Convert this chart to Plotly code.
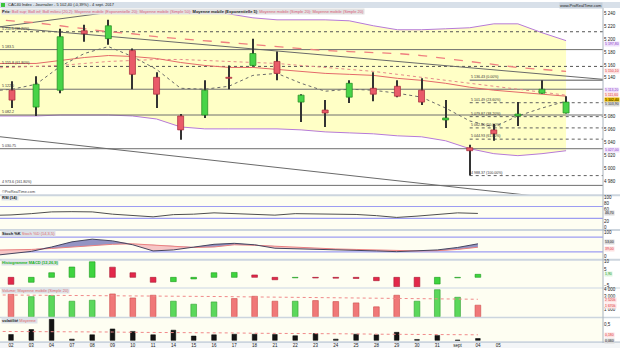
import plotly.graph_objects as go

# ---------------- data ----------------
dates = ["02", "03", "04", "07", "08", "09", "10", "11", "14", "15", "16", "17", "18",
         "21", "22", "23", "24", "25", "28", "29", "30", "31", "sept", "04", "05"]

open_p = [5120.9, 5094.7, 5120.9, 5213.2, 5200.9, 5182.4, 5140.9, 5080.9, 5082.4, 5140.9,
          5159.3, 5165.5, 5102.4, 5090.1, 5110.1, 5123.9, 5127.0, 5120.9, 5074.7, 5031.6,
          5059.3, 5080.9, 5116.2, 5085.5]
high_p = [5134.7, 5142.4, 5216.2, 5222.4, 5230.1, 5185.5, 5148.6, 5083.9, 5136.2, 5159.3,
          5200.9, 5180.9, 5114.7, 5105.5, 5136.2, 5148.6, 5136.2, 5139.3, 5105.5, 5036.2,
          5068.6, 5102.4, 5136.43, 5111.6]
low_p = [5093.2, 5080.9, 5116.2, 5196.2, 5191.6, 5122.4, 5093.2, 5043.9, 5077.8, 5122.4,
         5158.0, 5136.2, 5071.6, 5063.9, 5100.9, 5103.9, 5110.1, 5097.8, 5062.4, 4988.37,
         5042.4, 5065.5, 5115.5, 5084.8]
close_p = [5105.5, 5130.1, 5203.9, 5208.5, 5220.9, 5145.5, 5114.7, 5059.3, 5120.9, 5139.3,
           5177.8, 5147.0, 5113.2, 5085.5, 5131.6, 5114.7, 5111.6, 5102.4, 5077.8, 5027.0,
           5053.2, 5083.9, 5122.4, 5102.4]
prev_close = 5122.0  # 01 août

# line indicators: first value = 01 août (just off the left edge)
boll_sup = [5262.0, 5265.5, 5270.1, 5276.3, 5280.9, 5279.3, 5276.3, 5270.1, 5257.8, 5245.5,
            5239.3, 5233.2, 5230.1, 5230.1, 5230.1, 5228.6, 5220.9, 5214.7, 5214.7, 5216.2,
            5217.8, 5223.9, 5223.9, 5210.1, 5197.8]
boll_inf = [5080.9, 5080.9, 5080.9, 5082.4, 5082.4, 5082.4, 5080.9, 5076.2, 5063.9, 5060.9,
            5060.9, 5060.9, 5060.9, 5059.3, 5056.2, 5054.7, 5053.2, 5050.1, 5048.6, 5042.4,
            5030.1, 5022.4, 5019.3, 5022.4, 5027.0]
mm_ema20 = [5162.4, 5162.4, 5162.4, 5167.0, 5171.6, 5174.7, 5173.2, 5170.1, 5163.9, 5159.3,
            5156.2, 5156.2, 5153.2, 5150.1, 5147.0, 5145.5, 5143.9, 5139.3, 5136.2, 5131.6,
            5125.5, 5120.9, 5117.8, 5114.7, 5111.6]
mm_sma20 = [5155.0, 5156.2, 5157.8, 5159.3, 5162.4, 5165.5, 5167.0, 5168.6, 5168.6, 5167.0,
            5165.5, 5163.9, 5162.4, 5159.3, 5156.2, 5153.2, 5150.1, 5145.5, 5140.9, 5136.2,
            5131.6, 5127.0, 5122.4, 5117.8, 5113.2]
mm_sma50 = [5231.6, 5228.6, 5225.5, 5220.9, 5216.2, 5211.6, 5208.5, 5203.9, 5200.8, 5197.8,
            5194.7, 5191.6, 5188.5, 5185.5, 5182.4, 5180.9, 5179.3, 5177.8, 5174.7, 5170.1,
            5165.5, 5160.9, 5156.2, 5153.2, 5150.1]
mm_ema5 = [5119.3, 5122.4, 5130.1, 5157.8, 5177.8, 5188.6, 5173.2, 5153.2, 5123.9, 5122.4,
           5127.0, 5143.9, 5147.0, 5131.6, 5119.3, 5122.4, 5120.9, 5116.2, 5110.1, 5093.2,
           5073.2, 5063.9, 5080.9, 5093.2, 5103.9]

rsi14 = [40.0, 41.7, 46.0, 52.0, 52.7, 52.0, 44.3, 39.3, 35.3, 42.7, 44.3, 48.7, 46.0, 42.7,
         41.0, 46.0, 45.3, 44.3, 43.3, 39.3, 33.3, 37.7, 44.3, 48.7, 46.7]
stoch_k = [4, 12, 22, 40, 61, 72, 65, 49, 24, 28, 40, 51, 55, 49, 35, 33, 32, 31, 28, 24,
           21, 24, 28, 38, 53]
stoch_d = [27, 28, 30, 34, 40, 47, 51, 53, 49, 43, 38, 40, 49, 47, 43, 38, 34, 32, 30, 27,
           25, 24, 25, 30, 39]

macd_hist = [-4.4, -3.1, 2.9, 6.5, 9.8, 6.4, 2.9, -3.1, -2.7, -1.0, 2.9, 3.1, 1.5, -1.5,
             -0.3, -0.4, -0.5, -0.7, -2.1, -5.8, -5.9, -4.2, -0.3, 1.9]
macd_prev = -3.8  # 01 août

volume_k = [3240, 2900, 3050, 2240, 2380, 3290, 2710, 3100, 2240, 1810, 2140, 2620, 2950,
            2240, 2240, 2330, 2190, 2000, 1430, 3100, 2240, 3900, 2810, 1670]
volume_ma20 = [3150, 3140, 3130, 3110, 3090, 3060, 3040, 3020, 2990, 2970, 2940, 2920, 2890,
               2860, 2840, 2810, 2780, 2750, 2720, 2690, 2660, 2620, 2590, 2550, 2520]

volat = [0.19, 0.35, 0.68, 0.04, 0.18, 0.37, 0.29, 0.18, 0.33, 0.14, 0.18, 0.20, 0.20, 0.19,
         0.15, 0.22, 0.04, 0.20, 0.18, 0.26, 0.03, 0.16, 0.01, 0.06]
volat_ma = [0.29, 0.29, 0.29, 0.28, 0.28, 0.27, 0.27, 0.26, 0.26, 0.25, 0.25, 0.24, 0.24,
            0.23, 0.23, 0.22, 0.22, 0.21, 0.21, 0.20, 0.20, 0.19, 0.19, 0.18, 0.18]

# horizontal levels (left side)
hl_solid = [5183.9, 5122.4, 5082.4, 5030.1, 4973.2]
hl_solid_txt = ["5 183.5", "5 122.0", "5 082.2", "5 030.75", "4 973.6 (161.80%)"]
hl_dot = [5211.6, 5157.8]
hl_dot_txt = ["5 211.5 (38.20%)", "5 155.8 (61.80%)"]

# Fibonacci retracement (right side)
fib_high = 5136.43
fib_low = 4988.37
fib_pct = [0.0, 23.6, 38.2, 50.0, 61.8, 100.0]
fib_start = 19

# trend lines: (index pair, price pair)
trend_lines = [([2, 22], [5211.0, 5146.0]),
               ([0, 20], [5046.6, 4963.8]),
               ([0, 4], [5221.8, 5241.6])]

# axis tick values
price_ticks = [4980, 5000, 5020, 5040, 5060, 5080, 5140, 5160, 5180, 5200, 5220, 5240]
rsi_ticks = [0, 20, 60, 80, 100]
stoch_ticks = [0, 100]
macd_ticks = [-5, 5, 10]
vol_ticks = [1000, 3000, 4000]
volat_ticks = [0.5]

# ---------------- geometry ----------------
W, H = 620, 349
XEND = 603 / W
XR = [-0.498, 24.533]
XR2 = [-0.542, 29.163]
YR = [4959.3, 5247.0]


def dom(top, bot):
    return [1 - bot / H, 1 - top / H]


def py(p):
    return 1 - p / H


def fmt(v, d=2):
    return f"{v:,.{d}f}".replace(",", " ").replace(".", ",")


FONT = "Liberation Sans, Arial, sans-serif"
xl = list(range(-1, 24))
xi = list(range(24))

fig = go.Figure()


def sc(x, y, color, width=1, dash="solid", xa="x", ya="y", **kw):
    fig.add_trace(go.Scatter(x=x, y=y, mode="lines", xaxis=xa, yaxis=ya, hoverinfo="skip",
                             line=dict(color=color, width=width, dash=dash), **kw))


# --- main price panel (base subplot) ---
sc(xl, boll_inf, "#b67ad8", 1)
sc(xl, boll_sup, "#b67ad8", 1, fill="tonexty", fillcolor="#ffffc6")
for v in hl_solid:
    sc(XR, [v, v], "#6f6f6f", 1)
for v in hl_dot:
    sc(XR, [v, v], "#555555", 1, "dot")
fib_lv = [fib_high - p / 100 * (fib_high - fib_low) for p in fib_pct]
for p, v in zip(fib_pct, fib_lv):
    if p == 0:
        sc([fib_start, XR[1]], [v, v], "#8c8c8c", 1.6)
    else:
        sc([fib_start, XR[1]], [v, v], "#606060", 1, "dot")
for (tx, ty) in trend_lines:
    s = (ty[1] - ty[0]) / (tx[1] - tx[0])
    sc(XR, [ty[0] + s * (XR[0] - tx[0]), ty[0] + s * (XR[1] - tx[0])], "#6a6a6a", 1)
sc(xl, mm_sma50, "#ef7f7f", 1.3, "dash")
sc(xl, mm_sma20, "#e58a8a", 1, "dot")
sc(xl, mm_ema20, "#e46a6a", 1)
sc(xl, mm_ema5, "#6a6a6a", 1, "dot")

# --- candles (overlay subplot so they sit above the band) ---
fig.add_trace(go.Bar(x=xi, y=[h - l for h, l in zip(high_p, low_p)], base=low_p, width=0.042,
                     marker=dict(color="#333333", line=dict(width=0)),
                     xaxis="x", yaxis="y7", hoverinfo="skip"))
up = [c >= o for o, c in zip(open_p, close_p)]
fig.add_trace(go.Bar(x=xi, y=[max(abs(c - o), 1.3) for o, c in zip(open_p, close_p)],
                     base=[min(o, c) for o, c in zip(open_p, close_p)], width=0.25,
                     marker=dict(color=["#48d448" if u else "#e95b69" for u in up],
                                 line=dict(color=["#23881f" if u else "#a52a3a" for u in up], width=0.7)),
                     xaxis="x", yaxis="y7", hoverinfo="skip"))

# --- RSI ---
for v in (70, 30):
    sc(XR2, [v, v], "#9d9df2", 1.2, xa="x2", ya="y2")
sc(xl, rsi14, "#4e4e4e", 1, xa="x2", ya="y2")

# --- Stochastic ---
for v in (80, 20):
    sc(XR2, [v, v], "#9d9df2", 1.2, xa="x2", ya="y3")
smax = [max(k, d) for k, d in zip(stoch_k, stoch_d)]
sc(xl, stoch_d, "rgba(0,0,0,0)", 0.1, xa="x2", ya="y3")
sc(xl, smax, "rgba(0,0,0,0)", 0.1, xa="x2", ya="y3", fill="tonexty", fillcolor="#9494c4")
sc(xl, stoch_k, "rgba(0,0,0,0)", 0.1, xa="x2", ya="y3")
sc(xl, smax, "rgba(0,0,0,0)", 0.1, xa="x2", ya="y3", fill="tonexty", fillcolor="#f6c6c6")
sc(xl, stoch_d, "#ea8080", 1, xa="x2", ya="y3")
sc(xl, stoch_k, "#45455f", 1, xa="x2", ya="y3")

# --- MACD histogram ---
mprev = [macd_prev] + macd_hist[:-1]
mup = [v >= p for v, p in zip(macd_hist, mprev)]
fig.add_trace(go.Bar(x=xi, y=macd_hist, width=0.28, xaxis="x2", yaxis="y4", hoverinfo="skip",
                     marker=dict(color=["#3ed43e" if u else "#e3284a" for u in mup],
                                 line=dict(color=["#1f9a1f" if u else "#a81a32" for u in mup], width=0.6))))

# --- Volume ---
cprev = [prev_close] + close_p[:-1]
vup = [c >= p for c, p in zip(close_p, cprev)]
fig.add_trace(go.Bar(x=xi, y=volume_k, width=0.28, xaxis="x2", yaxis="y5", hoverinfo="skip",
                     marker=dict(color=["#5bd85b" if u else "#f07878" for u in vup],
                                 line=dict(color=["#2fa02f" if u else "#cc4a4a" for u in vup], width=0.6))))
sc(xl, volume_ma20, "#f08a8a", 1, "dot", xa="x2", ya="y5")

# --- Volatility ---
fig.add_trace(go.Bar(x=xi, y=volat, width=0.23, xaxis="x2", yaxis="y6", hoverinfo="skip",
                     marker=dict(color="#141414", line=dict(color="#000000", width=0.5))))
sc(xl, volat_ma, "#f08a8a", 1, "dot", xa="x2", ya="y6")

# ---------------- shapes ----------------
shapes = []


def rect(x0, y0, x1, y1, color, layer="below"):
    shapes.append(dict(type="rect", xref="paper", yref="paper", x0=x0, x1=x1, y0=py(y1), y1=py(y0),
                       fillcolor=color, line=dict(width=0), layer=layer))


for (t, b) in [(196, 229), (231, 259), (261, 288), (289, 317.5), (319, 342.3)]:
    rect(0, t, XEND, b, "#fefef2")
rect(0, 0, 1, 6, "#d8e0e9")
for (t, b) in [(194, 196), (229, 231), (259, 261), (288, 289), (317.5, 319), (342.3, 344)]:
    rect(0, t, 1, b, "#ccd5de")
rect(0, 344, 1, 349, "#f3f5f7")
rect(1 / W, 1, 5 / W, 5, "#3cc43c")
shapes.append(dict(type="line", xref="paper", yref="paper", x0=XEND, x1=XEND, y0=py(344), y1=py(6),
                   line=dict(color="#aab4be", width=1), layer="above"))

# ---------------- annotations ----------------
ann = []


def txt(x, y, s, size=4.2, color="#222222", xref="paper", yref="paper", xanchor="left",
        yanchor="middle", bg=None, **kw):
    d = dict(x=x, y=y, text=s, xref=xref, yref=yref, xanchor=xanchor, yanchor=yanchor,
             showarrow=False, font=dict(size=size, color=color, family=FONT), borderpad=0)
    if bg:
        d["bgcolor"] = bg
    d.update(kw)
    ann.append(d)


chg = (close_p[-1] / close_p[-2] - 1) * 100
txt(7 / W, py(3), f"CAC40 Index - Journalier - {fmt(close_p[-1])} ({fmt(chg)}%) - 4 sept. 2017",
    size=4)
txt(XEND, py(3.5), "www.ProRealTime.com", size=4, xanchor="right", bg="#c4ced9")
legend_txt = ("<b>Prix</b>: <span style='color:#d95a78'>Boll sup; Boll inf; Boll milieu (20,2); "
              "Moyenne mobile (Exponentielle 20); Moyenne mobile (Simple 50);</span> "
              "<b>Moyenne mobile (Exponentielle 5)</b>; <span style='color:#d95a78'>"
              "Moyenne mobile (Simple 20); Moyenne mobile (Simple 20)</span>")
txt(1 / W, py(9.2), legend_txt, size=4, bg="#e2e2e2")
for v, s in zip(hl_solid + hl_dot, hl_solid_txt + hl_dot_txt):
    txt(1 / W, v, s, size=3.6, color="#333333", yref="y", yanchor="bottom")
for p, v in zip(fib_pct, fib_lv):
    txt(fib_start, v, f"{fmt(v).replace(',', '.')} ({p:.2f}%)", size=3.6, color="#333333",
        xref="x", yref="y", yanchor="bottom")
txt(1 / W, py(191.5), "©ProRealTime.com", size=3.8, color="#444444")

# right-side value boxes (main)
BX = XEND + 1 / W
vb = [(boll_sup[-1], "#8a3cc8", "#efe0fb", -3.5), (mm_sma50[-1], "#e03c3c", "#fde2e2", 0),
      (mm_sma20[-1], "#8a3cc8", "#efe0fb", 4.8), (mm_ema20[-1], "#e03c3c", "#fde2e2", 1.1),
      (close_p[-1], "#000000", "#f2c200", 2.6), (mm_ema5[-1], "#333333", "#d9d9d9", -3.2),
      (boll_inf[-1], "#8a3cc8", "#efe0fb", 0.6)]
for v, fc, bg, ys in vb:
    txt(BX, v, fmt(v), size=3.5, color=fc, yref="y", bg=bg, yshift=ys)

# panel titles
txt(1 / W, py(197.5), "<b>RSI (14)</b>", size=4, bg="#dde2e8")
txt(1 / W, py(233.5), "<b>Stoch %K</b> <span style='color:#e06a6a'>Stoch %D (14,3,5)</span>",
    size=4, bg="#dde2e8")
txt(1 / W, py(263), "<b>Histogramme MACD (12,26,9)</b>", size=4, color="#22b422", bg="#dde2e8")
txt(1 / W, py(291.5), "Volume; Moyenne mobile (Simple 20)", size=4, color="#e06a6a", bg="#dde2e8")
txt(1 / W, py(321), "<b>volatilité</b> <span style='color:#e06a6a'>Moyenne</span>", size=4,
    bg="#dde2e8")

# indicator value boxes
txt(BX, rsi14[-1], fmt(rsi14[-1]), size=3.5, yref="y2", bg="#d9d9d9")
txt(BX, stoch_k[-1], fmt(stoch_k[-1]), size=3.5, yref="y3", bg="#d9d9d9", yshift=1.4)
txt(BX, stoch_d[-1], fmt(stoch_d[-1]), size=3.5, color="#e03c3c", yref="y3", bg="#fde2e2",
    yshift=-1.4)
txt(BX, macd_hist[-1], fmt(macd_hist[-1]), size=3.5, color="#1f9a1f", yref="y4", bg="#dff5df")
txt(BX, volume_ma20[-1], fmt(volume_ma20[-1], 0) + "k", size=3.5, color="#e03c3c",
    yref="y5", bg="#fde2e2", yshift=-1.2)
txt(BX, volume_k[-1], fmt(volume_k[-1], 0) + "k", size=3.5, color="#e03c3c", yref="y5",
    bg="#fde2e2", yshift=-1.0)
txt(BX, volat_ma[-1], fmt(volat_ma[-1], 3), size=3.5, color="#e03c3c", yref="y6",
    bg="#fde2e2")
txt(BX, volat[-1], fmt(volat[-1], 3), size=3.5, yref="y6", bg="#d9d9d9", yshift=-2)

# ---------------- layout ----------------
tick_font = dict(size=4.5, color="#222222", family=FONT)


def yax(domain, rng, tickvals, anchor="x2", **kw):
    d = dict(domain=domain, range=rng, side="right", anchor=anchor, tickvals=tickvals,
             showgrid=False, zeroline=False, ticks="", tickfont=tick_font, fixedrange=True)
    d.update(kw)
    return d


fig.update_layout(
    width=W, height=H, margin=dict(l=0, r=0, t=0, b=0),
    paper_bgcolor="white", plot_bgcolor="rgba(0,0,0,0)",
    showlegend=False, barmode="overlay", separators=", ",
    font=dict(family=FONT),
    xaxis=dict(domain=[0, XEND], range=XR, visible=False, anchor="y", fixedrange=True),
    xaxis2=dict(domain=[0, XEND], range=XR2, anchor="y6", tickvals=list(range(len(dates))),
                ticktext=dates, showgrid=False, zeroline=False, ticks="", tickfont=tick_font,
                fixedrange=True),
    yaxis=yax(dom(7, 194), YR, price_ticks, anchor="x", tickformat=",d"),
    yaxis7=dict(domain=dom(7, 194), range=YR, overlaying="y", anchor="x", visible=False,
                fixedrange=True),
    yaxis2=yax(dom(196, 229), [-5.7, 104.3], rsi_ticks),
    yaxis3=yax(dom(231, 259), [-8.1, 105.3], stoch_ticks),
    yaxis4=yax(dom(261, 288), [-6.4, 10.44], macd_ticks),
    yaxis5=yax(dom(289, 317.5), [0, 4070], vol_ticks, tickformat=",d", ticksuffix="k"),
    yaxis6=yax(dom(319, 342.3), [-0.032, 0.715], volat_ticks, tickformat=".1f"),
    shapes=shapes, annotations=ann,
)

fig.write_html("out.html")
